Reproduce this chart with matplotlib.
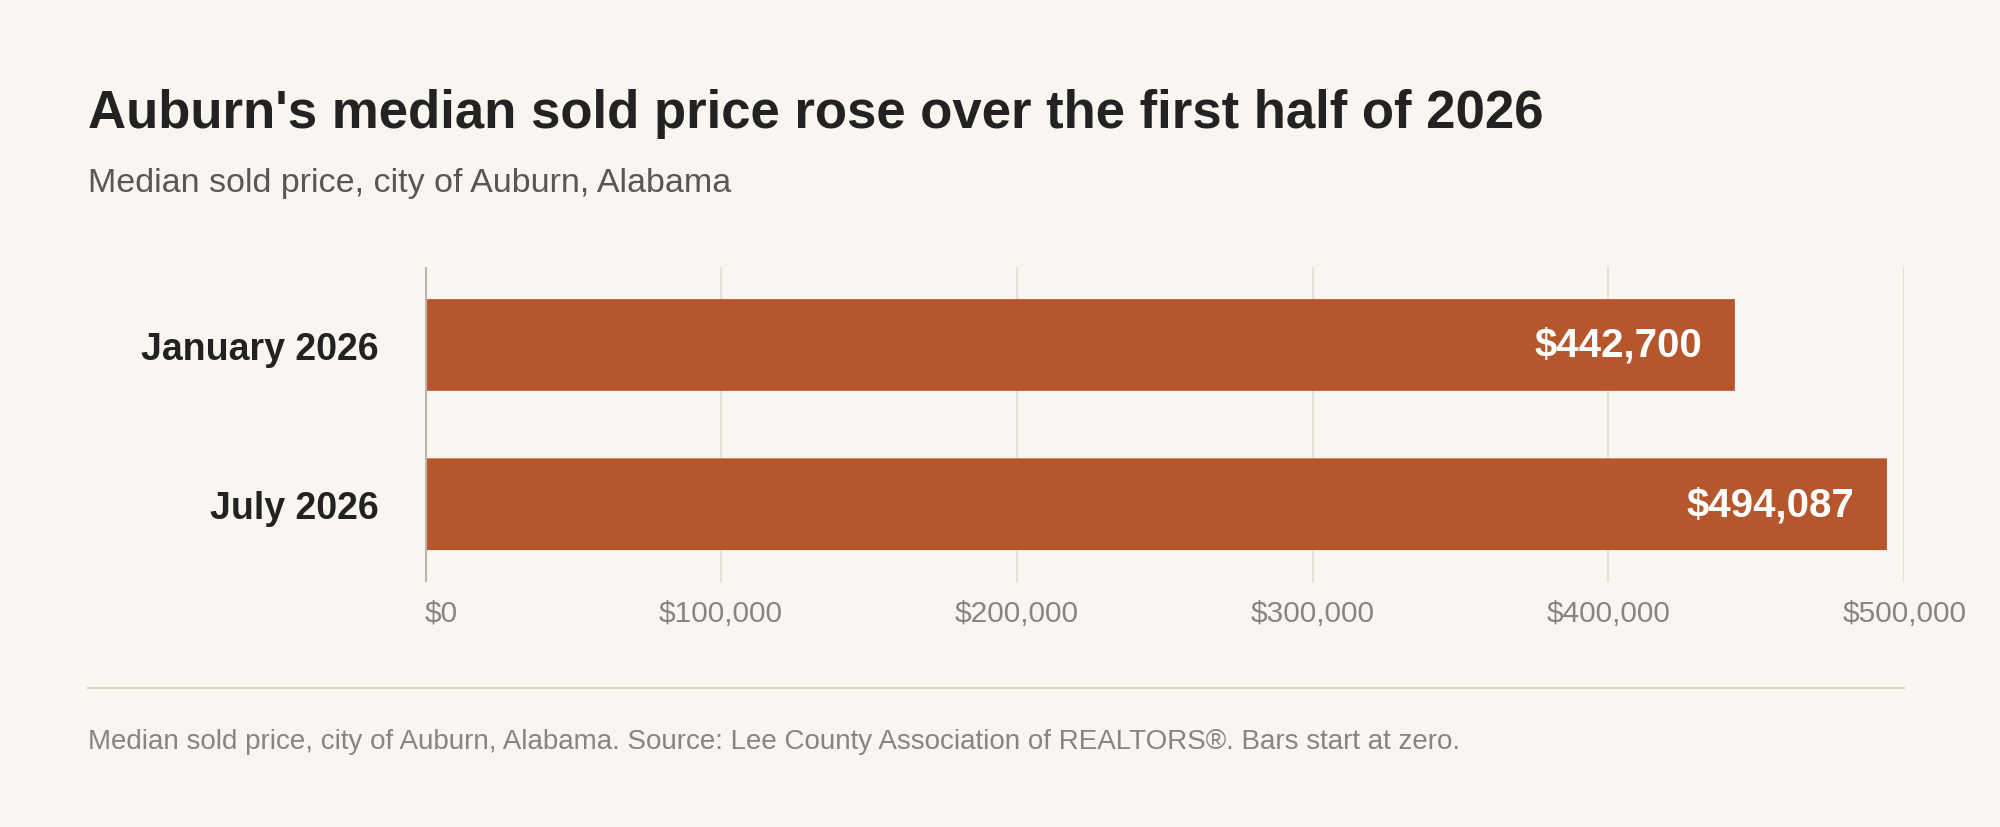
import matplotlib.pyplot as plt
from matplotlib.patches import FancyBboxPatch

categories = ['January 2026', 'July 2026']
values = [442700, 494087]
value_labels = ['$442,700', '$494,087']
ticks = [0, 100000, 200000, 300000, 400000, 500000]
tick_labels = ['$0', '$100,000', '$200,000', '$300,000', '$400,000', '$500,000']

bg = '#F9F6F1'
bar_color = '#B5562D'
plt.rcParams['font.family'] = ['Liberation Sans', 'DejaVu Sans']

fig = plt.figure(figsize=(20, 8.28), dpi=100, facecolor=bg)
ax = fig.add_axes([0.2124, 0.296, 0.7398, 0.380], facecolor=bg)

bar_h = 0.576
for i, v in enumerate(values):
    ax.add_patch(FancyBboxPatch((0, i - bar_h / 2), v, bar_h,
                                boxstyle='round,pad=0,rounding_size=0.03',
                                facecolor=bar_color, edgecolor='none', zorder=2))
    ax.text(v - 11000, i, value_labels[i], ha='right', va='center',
            color='white', fontsize=29, fontweight='bold', zorder=3)

ax.set_xlim(0, 500000)
ax.set_ylim(1.488, -0.488)
ax.set_xticks(ticks)
ax.set_xticklabels(tick_labels, fontsize=21.5, color='#888480')
ax.get_xticklabels()[0].set_ha('left')
ax.set_yticks(range(len(categories)))
ax.set_yticklabels(categories, fontsize=27, fontweight='bold', color='#222222')
ax.tick_params(axis='y', length=0, pad=33)
ax.tick_params(axis='x', length=0, pad=12)
ax.grid(axis='x', color='#E3DCD4', linewidth=1.2, zorder=0)
for s in ax.spines.values():
    s.set_visible(False)
ax.axvline(0, color='#BDB3A8', linewidth=3, zorder=4)

fig.text(0.044, 0.862, "Auburn's median sold price rose over the first half of 2026",
         fontsize=38, fontweight='bold', color='#222222', va='center')
fig.text(0.044, 0.778, 'Median sold price, city of Auburn, Alabama',
         fontsize=24.5, color='#5A5652', va='center')
fig.add_artist(plt.Line2D([0.044, 0.952], [0.168, 0.168], color='#DDD5CC', linewidth=1.5))
fig.text(0.044, 0.104,
         'Median sold price, city of Auburn, Alabama. Source: Lee County Association of REALTORS®. Bars start at zero.',
         fontsize=20, color='#888480', va='center')

fig.savefig('out.png', dpi=100, facecolor=bg)
